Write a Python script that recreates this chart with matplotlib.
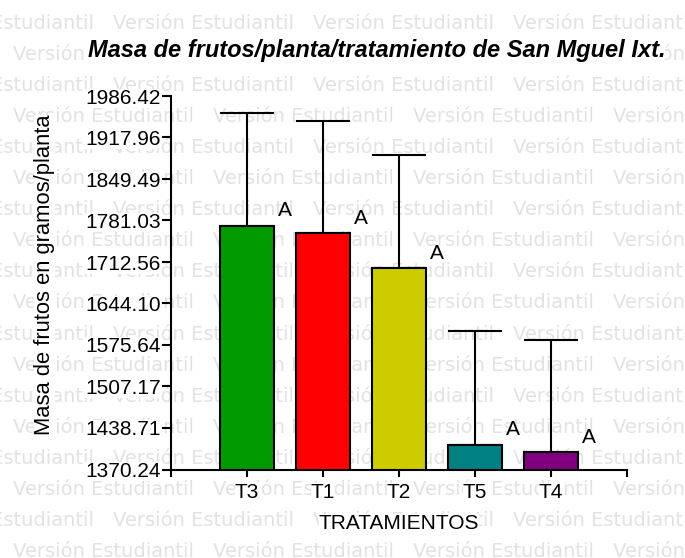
import matplotlib
matplotlib.use("Agg")
import matplotlib.pyplot as plt

# datos
tratamientos = ["T3", "T1", "T2", "T5", "T4"]
masa_media = [1771.9, 1759.9, 1702.1, 1411.1, 1398.6]
error_sup = [186.0, 185.7, 187.0, 188.1, 185.8]
letras = ["A", "A", "A", "A", "A"]
colores = ["#009900", "#FF0000", "#CCCC00", "#008080", "#800080"]
yticks = [1370.24, 1438.71, 1507.17, 1575.64, 1644.10,
          1712.56, 1781.03, 1849.49, 1917.96, 1986.42]

W, H = 685, 558
plt.rcParams["font.family"] = ["Liberation Sans", "DejaVu Sans"]

fig = plt.figure(figsize=(W / 100, H / 100), dpi=100)

# marca de agua "Versión Estudiantil" (detras de todo)
for k in range(18):
    base = 28.7 + 31.08 * k
    x0 = -87 if k % 2 == 0 else -187
    x = x0
    while x < W:
        fig.text(x / W, 1 - base / H, "Versión Estudiantil", family="DejaVu Sans",
                 fontsize=14.0, color="#E2E2E2", ha="left", va="baseline", zorder=-5)
        x += 200

ax = fig.add_axes([171 / W, 1 - 469.5 / H, 456 / W, 373.5 / H])
ax.set_facecolor("none")

pos = list(range(1, len(tratamientos) + 1))
ax.bar(pos, masa_media, width=0.71, color=colores, edgecolor="black",
       linewidth=1.5, zorder=2)
ax.errorbar(pos, masa_media, yerr=[[0] * len(pos), error_sup], fmt="none",
            ecolor="black", elinewidth=1.5, capsize=19.5, capthick=1.5, zorder=1)

for p, m, l in zip(pos, masa_media, letras):
    ax.annotate(l, (p + 0.5, m), xytext=(0, 4), textcoords="offset points",
                ha="center", va="bottom", fontsize=15)

ax.set_xlim(0, 6)
ax.set_ylim(yticks[0], yticks[-1])
ax.set_yticks(yticks)
ax.set_yticklabels(["%.2f" % v for v in yticks])
ax.set_xticks([0] + pos + [6])
ax.set_xticklabels([""] + tratamientos + [""])

for s in ["top", "right"]:
    ax.spines[s].set_visible(False)
for s in ["left", "bottom"]:
    ax.spines[s].set_linewidth(1.5)

ax.tick_params(axis="y", direction="out", length=6.5, width=1.5, pad=1, labelsize=15)
ax.tick_params(axis="x", direction="out", length=5, width=1.5, pad=5, labelsize=15)
for lab in ax.get_xticklabels() + ax.get_yticklabels():
    lab.set_bbox(dict(facecolor="white", edgecolor="none", pad=0))

ax.set_xlabel("TRATAMIENTOS", fontsize=15,
              bbox=dict(facecolor="white", edgecolor="none", pad=0))
ax.xaxis.set_label_coords(0.5, -0.119)
ax.xaxis.label.set_va("top")
ax.set_ylabel("Masa de frutos en gramos/planta", fontsize=15.8,
              bbox=dict(facecolor="white", edgecolor="none", pad=0))
ax.yaxis.set_label_coords(-0.277, 0.521)
ax.yaxis.label.set_va("center")

fig.text(376.5 / W, 1 - 57 / H, "Masa de frutos/planta/tratamiento de San Mguel Ixt.",
         fontsize=17, fontweight="bold", fontstyle="italic", ha="center", va="baseline",
         bbox=dict(facecolor="white", edgecolor="none", pad=0))

fig.savefig("out.png", dpi=100)
